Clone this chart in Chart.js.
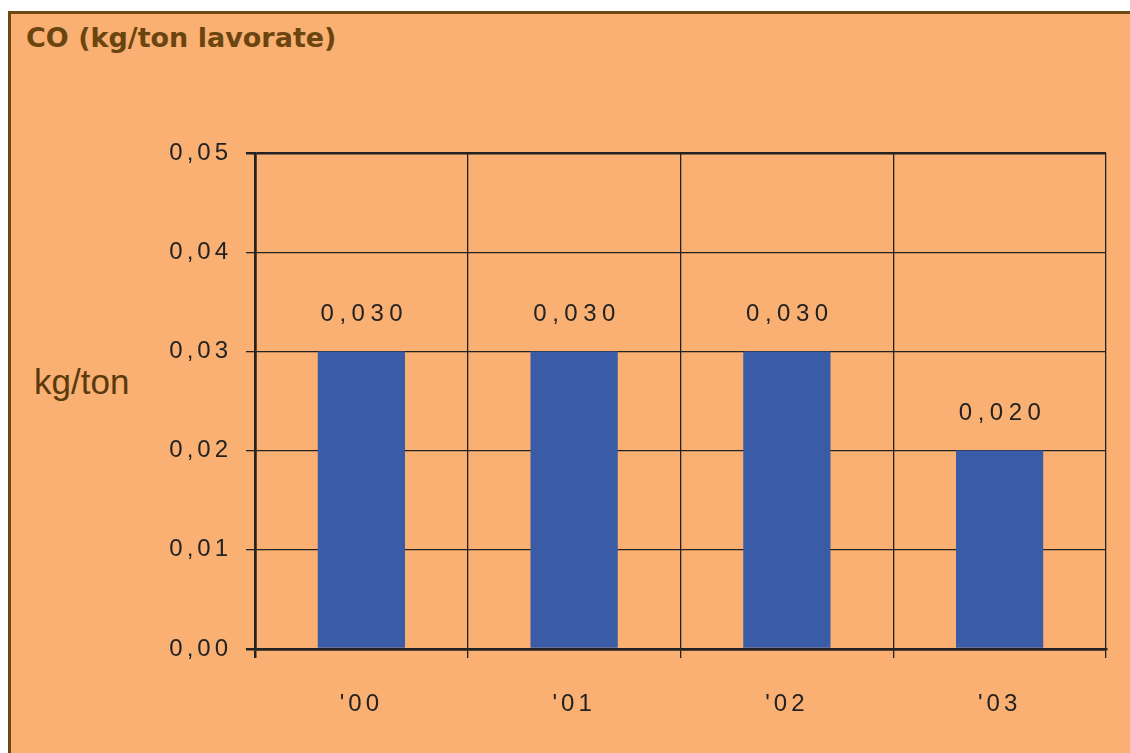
<!DOCTYPE html>
<html>
<head>
<meta charset="utf-8">
<script src="https://cdn.jsdelivr.net/npm/chart.js@4"></script>
<style>
  body { margin: 0; background: #ffffff; }
  #panel {
    position: absolute; left: 8px; top: 11px; width: 1122px; height: 742px;
    background: #F9B072; border-left: 3px solid #6B4A12; border-top: 3px solid #6B4A12;
    box-sizing: border-box;
  }
  #title {
    position: absolute; left: 26px; top: 22px; font-family: "DejaVu Sans", sans-serif;
    font-weight: bold; font-size: 27px; color: #6B4510;
  }
  #ylab {
    position: absolute; left: 34px; top: 362px; font-family: "Liberation Sans", Arial, sans-serif;
    font-size: 35px; color: #5A3A0C;
  }
  #wrap { position: absolute; left: 0; top: 0; width: 1130px; height: 753px; }
</style>
</head>
<body>
<div id="panel"></div>
<div id="title">CO (kg/ton lavorate)</div>
<div id="ylab">kg/ton</div>
<div id="wrap"><canvas id="c" width="1130" height="753"></canvas></div>
<script>
const years = ["'00", "'01", "'02", "'03"];
const values = [0.030, 0.030, 0.030, 0.020];

const fmt = (v, d) => v.toFixed(d).replace('.', ',');

const spacing = {
    id: 'spacing',
    beforeDraw(chart) { chart.ctx.letterSpacing = '4px'; }
};

const valueLabels = {
    id: 'valueLabels',
    afterDatasetsDraw(chart) {
        const ctx = chart.ctx;
        const meta = chart.getDatasetMeta(0);
        ctx.save();
        ctx.letterSpacing = '5.5px';
        ctx.font = '24px "Liberation Sans", Arial, sans-serif';
        ctx.fillStyle = '#222222';
        ctx.textAlign = 'center';
        ctx.textBaseline = 'middle';
        meta.data.forEach((bar, i) => {
            ctx.fillText(fmt(values[i], 3), bar.x + 3, bar.y - 37);
        });
        ctx.restore();
    }
};

new Chart(document.getElementById('c'), {
    type: 'bar',
    data: {
        labels: years,
        datasets: [{
            data: values,
            backgroundColor: '#3A5BA5',
            borderWidth: 0,
            categoryPercentage: 1,
            barPercentage: 0.41
        }]
    },
    options: {
        responsive: false,
        animation: false,
        plugins: { legend: { display: false }, tooltip: { enabled: false } },
        layout: { padding: { top: 153, right: 24, left: 0, bottom: 0 } },
        scales: {
            x: {
                afterFit(s) { s.height = 104; },
                grid: {
                    offset: true,
                    color: '#222222',
                    lineWidth: ctx => (ctx.index === 0 || ctx.index === years.length) ? 2.5 : 1.3,
                    tickLength: 9
                },
                border: { color: '#222222', width: 2.5 },
                ticks: {
                    color: '#222222',
                    padding: 32,
                    font: { family: '"Liberation Sans", Arial, sans-serif', size: 24 }
                }
            },
            y: {
                min: 0,
                max: 0.05,
                afterFit(s) { s.width = 255; },
                grid: {
                    color: '#222222',
                    lineWidth: ctx => (ctx.index === 0 || ctx.index === 5) ? 2.5 : 1.3,
                    tickLength: 9
                },
                border: { color: '#222222', width: 2.5 },
                ticks: {
                    stepSize: 0.01,
                    color: '#222222',
                    padding: 14,
                    font: { family: '"Liberation Sans", Arial, sans-serif', size: 24 },
                    callback: v => fmt(v, 2)
                }
            }
        }
    },
    plugins: [spacing, valueLabels]
});
</script>
</body>
</html>
